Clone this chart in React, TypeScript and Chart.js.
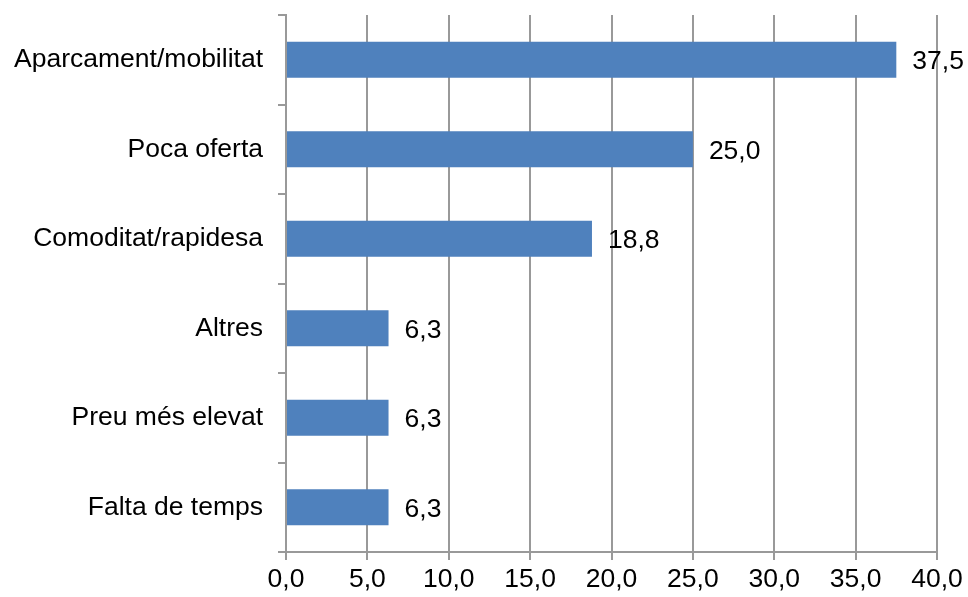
import React, { useEffect, useRef } from "react";
import { Chart, registerables } from "chart.js";

Chart.register(...registerables);

const categories = [
  "Aparcament/mobilitat",
  "Poca oferta",
  "Comoditat/rapidesa",
  "Altres",
  "Preu més elevat",
  "Falta de temps",
];
const values = [37.5, 25.0, 18.8, 6.3, 6.3, 6.3];
const xMin = 0;
const xMax = 40;
const xStep = 5;

const FONT = "'Liberation Sans', Arial, sans-serif";
const FS = 26.5;
const fmt = (v: number) => v.toFixed(1).replace(".", ",");

const valueLabels = {
  id: "valueLabels",
  afterDatasetsDraw(chart: any) {
    const ctx = chart.ctx;
    const meta = chart.getDatasetMeta(0);
    ctx.save();
    ctx.font = FS + "px " + FONT;
    ctx.fillStyle = "#000";
    ctx.textAlign = "left";
    ctx.textBaseline = "middle";
    meta.data.forEach((el: any, i: number) => {
      ctx.fillText(fmt(values[i]), el.x + 16, el.y + 2);
    });
    ctx.restore();
  },
};

export default function App() {
  const ref = useRef<HTMLCanvasElement>(null);
  useEffect(() => {
    if (!ref.current) return;
    const chart = new Chart(ref.current, {
      type: "bar",
      data: {
        labels: categories,
        datasets: [
          {
            data: values,
            backgroundColor: "#4F81BD",
            barPercentage: 0.4,
            categoryPercentage: 1,
          },
        ],
      },
      options: {
        indexAxis: "y",
        animation: false,
        responsive: false,
        maintainAspectRatio: false,
        layout: { padding: { top: 15, right: 31, left: 0, bottom: 0 } },
        plugins: { legend: { display: false }, tooltip: { enabled: false } },
        scales: {
          x: {
            min: xMin,
            max: xMax,
            ticks: {
              stepSize: xStep,
              color: "#000",
              font: { size: FS, family: FONT },
              padding: 4,
              callback: (v: any) => fmt(Number(v)),
              maxRotation: 0,
            },
            grid: { color: "#999", lineWidth: 2, tickLength: 8, drawTicks: true },
            border: { color: "#999", width: 2 },
            afterFit: (s: any) => {
              s.height = 45;
              s.paddingLeft = 0;
              s.paddingRight = 0;
            },
          },
          y: {
            ticks: {
              color: "#000",
              font: { size: FS, family: FONT },
              padding: 15,
            },
            grid: {
              color: "#999",
              lineWidth: 2,
              drawOnChartArea: false,
              tickLength: 8,
              offset: true,
            },
            border: { color: "#999", width: 2 },
            afterFit: (s: any) => {
              s.width = 286;
              s.paddingTop = 0;
              s.paddingBottom = 0;
            },
          },
        },
      },
      plugins: [valueLabels],
    });
    return () => chart.destroy();
  }, []);
  return (
    <div style={{ position: "fixed", left: 0, top: 0, width: 968, height: 597, background: "#fff" }}>
      <canvas ref={ref} width={968} height={597} style={{ width: 968, height: 597 }} />
    </div>
  );
}
